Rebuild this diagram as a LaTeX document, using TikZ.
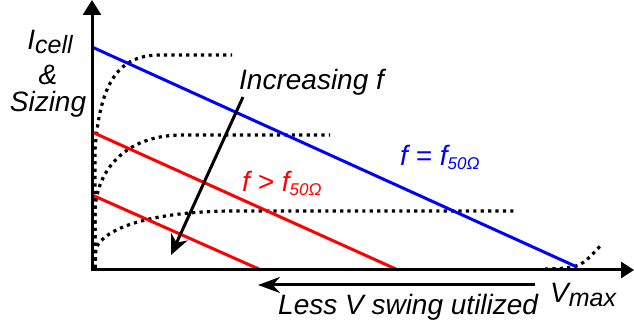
\documentclass[tikz,border=0pt]{standalone}
\usepackage{fontspec}
\setmainfont{Liberation Sans}
\usetikzlibrary{arrows.meta}

\newcommand{\subtxt}[2][19]{\raisebox{-3.5pt}{\fontsize{#1}{#1}\selectfont #2}}

\begin{document}
\begin{tikzpicture}[x=1pt, y=-1pt,
    lbl/.style={font=\fontsize{28}{30}\selectfont\itshape, inner sep=0pt},
    dotcurve/.style={line width=3.2pt, dash pattern=on 3.2pt off 4.2pt},
    loadline/.style={line width=3pt}]
    \useasboundingbox (0,0) rectangle (634,328);

    % Eixos
    \coordinate (O) at (92,270);
    \coordinate (ytop) at (92,0);
    \coordinate (xend) at (634,270);

    % Corbes de punts
    \draw[dotcurve] (95,268) -- (95,150) .. controls (100,80) and (120,55) .. (160,55) -- (232,55);
    \draw[dotcurve] (95,268) -- (95,210) .. controls (97,170) and (125,136) .. (180,135) -- (330,135);
    \draw[dotcurve] (95,268) -- (96,248) .. controls (105,228) and (150,212) .. (230,211) -- (514,211);
    \draw[dotcurve] (545,269) .. controls (580,268) .. (602,244);

    % Rectes de carrega
    \coordinate (b1) at (92,47);   \coordinate (b2) at (577,267);
    \coordinate (r1) at (92,132);  \coordinate (r2) at (398,270);
    \coordinate (s1) at (92,195);  \coordinate (s2) at (261,270);
    \draw[loadline, blue] (b1) -- (b2);
    \draw[loadline, red] (r1) -- (r2);
    \draw[loadline, red] (s1) -- (s2);

    \draw[line width=3pt, {Triangle[length=15pt,width=18pt]}-{Triangle[length=13pt,width=16pt]}] (ytop) -- (O) -- (xend);

    % Fletxes
    \coordinate (fa) at (243,97);  \coordinate (fb) at (171,255);
    \draw[line width=3pt, -{Stealth[length=20pt,width=18pt]}] (fa) -- (fb);
    \coordinate (va) at (535,285); \coordinate (vb) at (258,285);
    \draw[line width=3pt, -{Stealth[length=22pt,width=16pt]}] (va) -- (vb);

    % Etiquetes
    \node[lbl, anchor=base] (ycell) at (50,50) {I\subtxt[25]{cell}};
    \node[lbl, anchor=base] (yamp) at (48,85) {\&};
    \node[lbl, anchor=base] (ysize) at (48,112) {Sizing};
    \node[lbl, anchor=base west] (incr) at (239,90) {Increasing f};
    \node[lbl, anchor=base west, text=blue] (fblue) at (400,166) {f = f\subtxt[17]{50Ω}};
    \node[lbl, anchor=base west, text=red] (fred) at (242,192) {f > f\subtxt[17]{50Ω}};
    \node[lbl, anchor=base west] (vmax) at (550,303) {V\subtxt[25]{max}};
    \node[lbl, anchor=base west] (swing) at (278,315) {Less V swing utilized};
\end{tikzpicture}
\end{document}
